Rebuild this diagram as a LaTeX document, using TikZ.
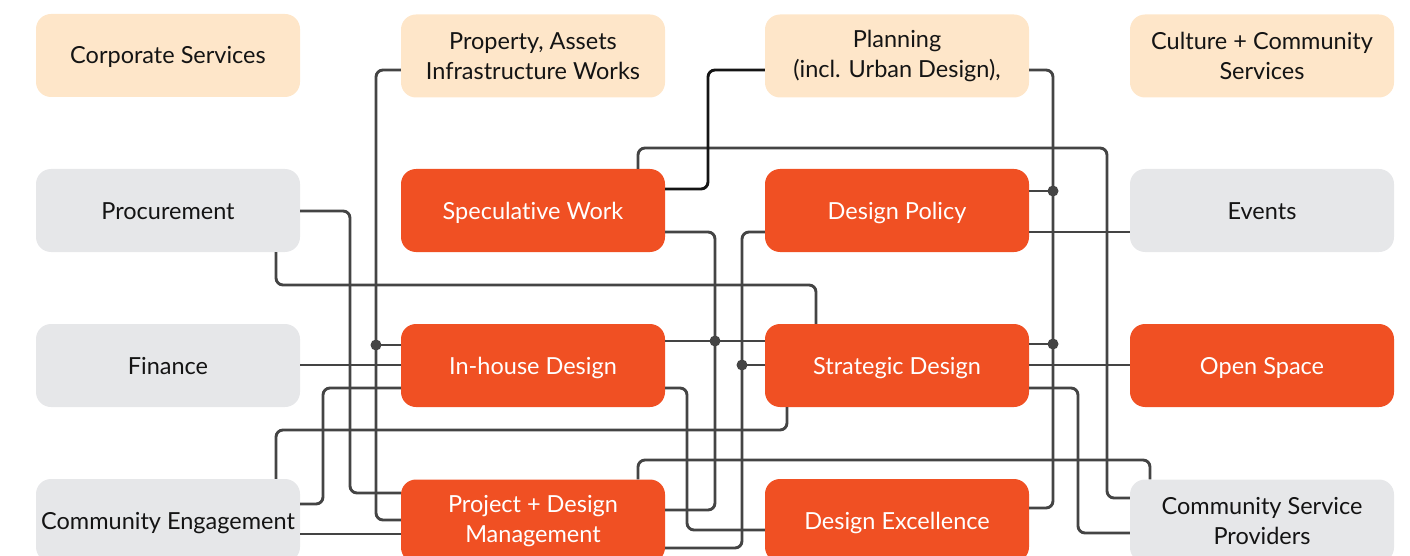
\documentclass[tikz,border=0pt]{standalone}
\usepackage{fontspec}
\setmainfont{Lato}[Ligatures={NoCommon}]
\definecolor{peach}{HTML}{FEE6C9}
\definecolor{paleGrey}{HTML}{E6E7E9}
\definecolor{brandOrange}{HTML}{F05023}
\definecolor{wire}{HTML}{444444}
\definecolor{ink}{HTML}{141414}
\tikzset{
  unit/.style={minimum width=264pt, minimum height=83pt, inner sep=0pt,
    rounded corners=15pt, align=center, font=\fontsize{23.5}{29.5}\selectfont},
  oneline/.style={text height=17pt, text depth=0pt},
  dept/.style={unit, fill=peach, text=ink},
  partner/.style={unit, fill=paleGrey, text=ink},
  core/.style={unit, fill=brandOrange, text=white},
  link/.style={draw=wire, line width=2.9pt, rounded corners=7pt},
  hotlink/.style={draw=ink, line width=2.9pt, rounded corners=7pt},
  joint/.style={fill=wire, circle, inner sep=0pt, minimum size=11pt}
}
\begin{document}
\begin{tikzpicture}[x=1pt, y=-1pt]
\useasboundingbox (0,0) rectangle (1410,556);
\clip (0,0) rectangle (1410,556);

% departments along the top
\node[dept, oneline] (corp) at (168,55.5) {Corporate Services};
\node[dept] (prop) at (533,56) {Property, Assets\\Infrastructure Works};
\node[dept] (plan) at (897,56) {Planning\\(incl. Urban Design),};
\node[dept] (cult) at (1262,56) {Culture + Community\\Services};

% second row
\node[partner, oneline] (proc) at (168,210.5) {Procurement};
\node[core, oneline] (spec) at (533,210.5) {Speculative Work};
\node[core, oneline] (pol) at (897,210.5) {Design Policy};
\node[partner, oneline] (ev) at (1262,210.5) {Events};

% third row
\node[partner, oneline] (fin) at (168,365.5) {Finance};
\node[core, oneline] (inh) at (533,365.5) {In-house Design};
\node[core, oneline] (strat) at (897,365.5) {Strategic Design};
\node[core, oneline] (os) at (1262,365.5) {Open Space};

% bottom row
\node[partner, oneline] (ce) at (168,520.5) {Community Engagement};
\node[core] (proj) at (533,521) {Project + Design\\Management};
\node[core, oneline] (exc) at (897,520.5) {Design Excellence};
\node[partner] (csp) at (1262,521) {Community Service\\Providers};

% junction points on shared runs
\coordinate (jA) at (376,345);
\coordinate (jF) at (715,341);
\coordinate (jG) at (742,365);
\coordinate (jH1) at (1053,191);
\coordinate (jH2) at (1053,344);

% connectors
\path[link] (prop.west |- 0,70) -| (376,520) -- (proj.west |- 0,520);
\path[link] (jA) -- (inh.west |- jA);
\path[link] (proc.east |- 0,211) -| (350,493) -- (proj.west |- 0,493);
\path[link] (proc.south -| 276,0) |- (816,285) -- (strat.north -| 816,0);
\path[link] (spec.north -| 638,0) |- (1107,148) |- (csp.west |- 0,498);
\path[hotlink] (spec.east |- 0,189) -| (708,70) -- (plan.west |- 0,70);
\path[link] (spec.east |- 0,232) -| (715,510) -- (proj.east |- 0,510);
\path[link] (inh.east |- jF) -- (strat.west |- jF);
\path[link] (pol.west |- 0,232) -| (742,548) -- (proj.east |- 0,548);
\path[link] (jG) -- (strat.west |- jG);
\path[link] (plan.east |- 0,70) -| (1053,508) -- (exc.east |- 0,508);
\path[link] (pol.east |- jH1) -- (jH1);
\path[link] (strat.east |- jH2) -- (jH2);
\path[link] (pol.east |- 0,232) -- (ev.west |- 0,232);
\path[link] (strat.east |- 0,365) -- (os.west |- 0,365);
\path[link] (strat.east |- 0,388) -| (1078,533) -- (csp.west |- 0,533);
\path[link] (fin.east |- 0,365) -- (inh.west |- 0,365);
\path[link] (inh.west |- 0,388) -| (323,504) -- (ce.east |- 0,504);
\path[link] (ce.north -| 276,0) |- (787,430) -- (strat.south -| 787,0);
\path[link] (ce.east |- 0,534) -- (proj.west |- 0,534);
\path[link] (inh.east |- 0,388) -| (687,530) -- (exc.west |- 0,530);
\path[link] (proj.north -| 638,0) |- (1150,460) -- (csp.north -| 1150,0);

% junction dots
\foreach \j in {jA,jF,jG,jH1,jH2} \node[joint] at (\j) {};
\end{tikzpicture}
\end{document}
